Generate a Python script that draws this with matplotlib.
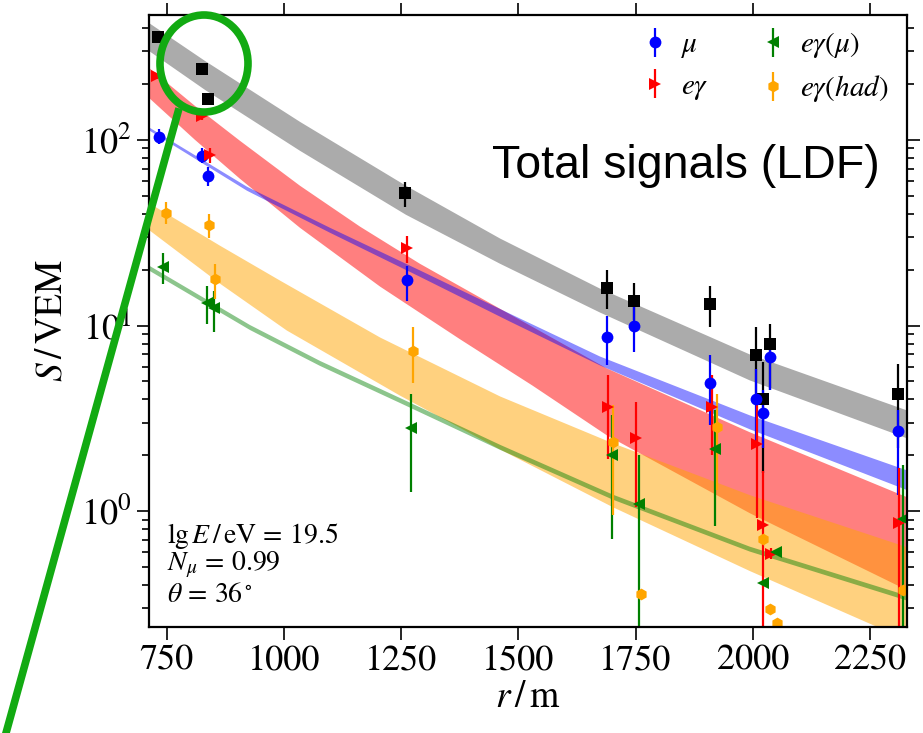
import numpy as np
import matplotlib
matplotlib.use("Agg")
import matplotlib.pyplot as plt
from matplotlib.patches import Ellipse
from matplotlib.lines import Line2D
from matplotlib.ticker import MultipleLocator

plt.rcParams['font.family'] = 'STIXGeneral'
plt.rcParams['mathtext.fontset'] = 'stix'

# station signals: r [m], S [VEM], lower / upper end of the error bar
R_TOT = [731, 825, 838, 1258, 1689, 1747, 1909, 2007, 2022, 2037, 2310]
S_TOT = [358, 241, 166, 51.9, 16.0, 13.5, 13.1, 6.90, 4.00, 7.91, 4.26]
LO_TOT = [350, 234, 155, 43.6, 12.3, 10.7, 9.8, 4.0, 1.6, 4.5, 2.2]
HI_TOT = [366, 248, 176, 59.5, 19.9, 17.0, 16.4, 9.8, 6.4, 10.2, 6.2]

R_MU = [733, 825, 838, 1262, 1689, 1747, 1909, 2007, 2022, 2037, 2310]
S_MU = [104, 82, 64, 17.5, 8.7, 10.0, 4.88, 4.0, 3.37, 6.8, 2.69]
LO_MU = [95, 75, 56.6, 13.6, 6.1, 7.2, 2.9, 2.4, 2.2, 4.5, 1.22]
HI_MU = [115, 90, 71, 21.0, 11.3, 13.0, 6.9, 5.8, 4.5, 8.3, 3.5]

R_EM = [729, 825, 842, 1262, 1691, 1751, 1913, 2009, 2022, 2039, 2312]
S_EM = [221, 134.6, 83, 26.2, 3.66, 2.47, 3.66, 2.29, 0.84, 0.59, 0.86]
LO_EM = [212, 128, 75, 21.6, 1.9, 1.05, 2.0, 0.92, 0.05, 0.55, 0.05]
HI_EM = [230, 141, 90, 30.5, 5.4, 3.86, 5.4, 3.8, 1.65, 0.63, 1.7]

R_EMMU = [742, 836, 851, 1270, 1699, 1757, 1919, 2022, 2049, 2320]
S_EMMU = [20.7, 13.3, 12.5, 2.79, 2.0, 1.09, 2.15, 0.41, 0.60, 0.906]
LO_EMMU = [16.8, 10.2, 9.2, 1.27, 0.71, 0.05, 0.83, 0.41, 0.60, 0.05]
HI_EMMU = [24.7, 16.4, 15.4, 4.3, 3.3, 2.0, 3.5, 0.41, 0.60, 1.78]

R_HAD = [748, 840, 853, 1275, 1702, 1762, 1923, 2022, 2037, 2052, 2320]
S_HAD = [40.5, 34.9, 17.7, 7.3, 2.37, 0.358, 2.83, 0.706, 0.297, 0.25, 0.376]
LO_HAD = [35, 29.7, 13.9, 4.9, 0.95, 0.358, 1.3, 0.706, 0.297, 0.25, 0.376]
HI_HAD = [46, 40, 21.5, 9.8, 3.72, 0.358, 4.3, 0.706, 0.297, 0.25, 0.376]

# LDF bands, upper and lower edges (r, S)
BAND_TOT_R = [712, 831.5, 1034, 1260, 1461, 1674, 1994, 2329]
BAND_TOT_UP = [425.6, 265.9, 125.0, 56.6, 29.4, 15.81, 6.98, 3.49]
BAND_TOT_LO = [301.0, 185.7, 87.3, 39.5, 21.5, 11.75, 5.06, 2.47]

BAND_MU_R = [712, 921, 1098, 1290, 1482, 1674, 1994, 2329]
BAND_MU_UP = [116.7, 55.9, 33.6, 19.8, 11.57, 6.81, 3.28, 1.66]
BAND_MU_LO = [112.5, 53.2, 31.6, 18.3, 10.5, 6.10, 2.76, 1.30]

BAND_EM_R_UP = [712, 810, 906, 1034, 1162, 1290, 1461, 1689, 1994, 2329]
BAND_EM_UP = [243.9, 152.3, 98.8, 56.6, 34.1, 21.5, 12.3, 5.87, 2.66, 1.19]
BAND_EM_R_LO = [712, 810, 906, 1034, 1205, 1375, 1530, 1689, 1994, 2329]
BAND_EM_LO = [168.2, 100.0, 61.7, 33.6, 16.2, 8.45, 4.75, 2.56, 0.975, 0.376]

BAND_HAD_R_UP = [714, 863.5, 991.5, 1205, 1461, 1702, 1994, 2329]
BAND_HAD_UP = [45.3, 26.9, 17.46, 8.62, 4.15, 2.32, 1.22, 0.640]
BAND_HAD_R_LO = [714, 863.5, 1006, 1247, 1461, 1702, 1994, 2329]
BAND_HAD_LO = [32.4, 16.8, 9.40, 4.20, 2.15, 1.05, 0.476, 0.2025]

BAND_EMMU_R = [714, 927.5, 1077, 1247, 1461, 1702, 1994, 2329]
BAND_EMMU_UP = [20.89, 10.06, 6.444, 4.076, 2.278, 1.227, 0.644, 0.3513]
BAND_EMMU_LO = [19.64, 9.458, 6.058, 3.832, 2.141, 1.153, 0.606, 0.3303]


def band(ax, r_up, s_up, r_lo, s_lo, **kw):
    xs = np.concatenate([r_up, r_lo[::-1]])
    ys = np.concatenate([s_up, s_lo[::-1]])
    ax.fill(xs, ys, lw=0, **kw)


def points(ax, r, s, lo, hi, **kw):
    s = np.array(s)
    yerr = [s - np.array(lo), np.array(hi) - s]
    return ax.errorbar(r, s, yerr=yerr, ls='none', capsize=0, elinewidth=1.6,
                       markeredgewidth=0, **kw)


fig = plt.figure(figsize=(9.23, 7.33), dpi=100)
ax = fig.add_axes([149 / 923, 106 / 733, 758 / 923, 612 / 733])
ax.set_yscale('log')

band(ax, BAND_TOT_R, BAND_TOT_UP, BAND_TOT_R, BAND_TOT_LO, color='k', alpha=0.33)
band(ax, BAND_EM_R_UP, BAND_EM_UP, BAND_EM_R_LO, BAND_EM_LO, color='r', alpha=0.5)
band(ax, BAND_MU_R, BAND_MU_UP, BAND_MU_R, BAND_MU_LO, color='b', alpha=0.45)
band(ax, BAND_HAD_R_UP, BAND_HAD_UP, BAND_HAD_R_LO, BAND_HAD_LO, color='orange', alpha=0.5)
band(ax, BAND_EMMU_R, BAND_EMMU_UP, BAND_EMMU_R, BAND_EMMU_LO, color='g', alpha=0.45)

points(ax, R_TOT, S_TOT, LO_TOT, HI_TOT, fmt='s', color='k', markersize=8)
h_mu = points(ax, R_MU, S_MU, LO_MU, HI_MU, fmt='o', color='b', markersize=8.5, label=r'$\mu$')
h_em = points(ax, R_EM, S_EM, LO_EM, HI_EM, fmt='>', color='r', markersize=8.5, label=r'$e\gamma$')
h_emmu = points(ax, R_EMMU, S_EMMU, LO_EMMU, HI_EMMU, fmt='<', color='g', markersize=8.5,
                label=r'$e\gamma(\mu)$')
h_had = points(ax, R_HAD, S_HAD, LO_HAD, HI_HAD, fmt='h', color='orange', markersize=8.5,
               label=r'$e\gamma(had)$')

ax.set_xlim(712, 2329)
ax.set_ylim(0.238, 470)
ax.xaxis.set_major_locator(MultipleLocator(250))
ax.tick_params(which='both', direction='out', top=True, right=True, labelsize=26, width=1.2)
ax.tick_params(which='major', length=9)
ax.tick_params(which='minor', length=5)
for sp in ax.spines.values():
    sp.set_linewidth(1.6)

ax.set_xlabel(r'$r\,/\,\mathrm{m}$', fontsize=27, labelpad=2)
ax.set_ylabel(r'$S\,/\,\mathrm{VEM}$', fontsize=27, labelpad=8)

ax.legend(handles=[h_mu, h_em, h_emmu, h_had], ncol=2, loc='upper right',
          bbox_to_anchor=(0.975, 0.975), frameon=False, fontsize=21,
          handlelength=1.0, handletextpad=0.4, columnspacing=1.7,
          labelspacing=0.45, borderpad=0, borderaxespad=0)

ax.text(0.4525, 0.7337, 'Total signals (LDF)', transform=ax.transAxes,
        fontsize=33.5, family='Liberation Sans', va='baseline')
ax.text(0.0237, 0.137, r'$\mathrm{lg}\,E\,/\,\mathrm{eV}\,=\,19.5$', transform=ax.transAxes,
        fontsize=20, va='baseline')
ax.text(0.0237, 0.093, r'$N_\mu\,=\,0.99$', transform=ax.transAxes, fontsize=20, va='baseline')
ax.text(0.0237, 0.041, r'$\theta\,=\,36^\circ$', transform=ax.transAxes, fontsize=20,
        va='baseline')

# green highlight drawn over the figure
W, H = 923, 733
fig.add_artist(Ellipse((204 / W, 1 - 63.5 / H), 88 / W, 97 / H, fill=False,
                       edgecolor='#12aa12', lw=5.5, transform=fig.transFigure))
fig.add_artist(Line2D([178 / W, 6 / W], [1 - 112 / H, 0], color='#12aa12', lw=5.5,
                      transform=fig.transFigure))

fig.savefig('out.png', dpi=100)
